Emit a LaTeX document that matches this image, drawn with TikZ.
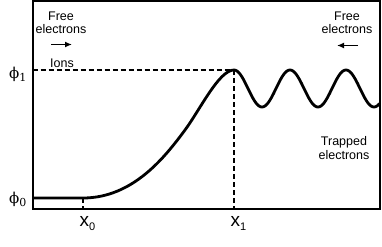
\documentclass[tikz,border=0pt]{standalone}
\usepackage{fontspec}
\setmainfont{Liberation Sans}
\newfontfamily\phifont{DejaVu Serif}
\usetikzlibrary{arrows.meta}

\newcommand{\sublbl}[2]{#1\raisebox{-0.45ex}{\fontsize{11}{11}\selectfont #2}}

\begin{document}
\begin{tikzpicture}[
    x=1pt, y=-1pt,
    font=\fontsize{12.5}{13.5}\selectfont,
    frame/.style={draw=black, line width=2pt},
    potential/.style={draw=black, line width=2.8pt, line join=round},
    guide/.style={draw=black, line width=1.3pt, dash pattern=on 5pt off 3pt},
    drift/.style={draw=black, line width=1.8pt, -{Latex[length=7pt,width=6pt]}},
    note/.style={align=center, inner sep=0pt},
    philabel/.style={font=\fontsize{15}{15}\phifont, inner sep=0pt, anchor=base west},
    xlabel/.style={font=\fontsize{19}{19}\selectfont, inner sep=0pt, anchor=base west}
]
\useasboundingbox (0,0) rectangle (382,246);

% axes box
\draw[frame] (32.5,1) rectangle (379.5,208.5);
\coordinate (axisleft) at (32.5,208.5);

\coordinate (x0) at (83,198);
\coordinate (x1) at (234,70);
\coordinate (phileft) at (32.5,70);

% potential curve
\draw[potential] (32.5,198) -- (x0)
    .. controls (133,198) and (165,157) .. (185,130)
    .. controls (200,109.75) and (219,70) .. (x1)
    -- plot[domain=234:379.5, samples=120] (\x, {88.5-18.5*cos((\x-234)*6.428571)});

\draw[guide] (phileft) -- (x1);
\draw[guide] (x1) -- (x1 |- axisleft);
\draw[guide] (x0) -- (x0 |- axisleft);

\node[philabel] (phione) at (9,78) {\sublbl{ϕ}{1}};
\node[philabel] (phizero) at (9,203) {\sublbl{ϕ}{0}};
\node[xlabel] (xzero) at (79.5,226) {\sublbl{x}{0}};
\node[xlabel] (xone) at (230.5,226) {\sublbl{x}{1}};

\node[note] (freeleft) at (61,23) {Free\\electrons};
\node[note] (freeright) at (347,23) {Free\\electrons};
\node[note, anchor=base] (ions) at (62,67) {Ions};
\node[note] (trapped) at (344,148) {Trapped\\electrons};

\coordinate (inleftA) at (51,44.5);
\coordinate (inleftB) at (72,44.5);
\coordinate (inrightA) at (358,45.5);
\coordinate (inrightB) at (337,45.5);
\draw[drift] (inleftA) -- (inleftB);
\draw[drift] (inrightA) -- (inrightB);

\end{tikzpicture}
\end{document}
